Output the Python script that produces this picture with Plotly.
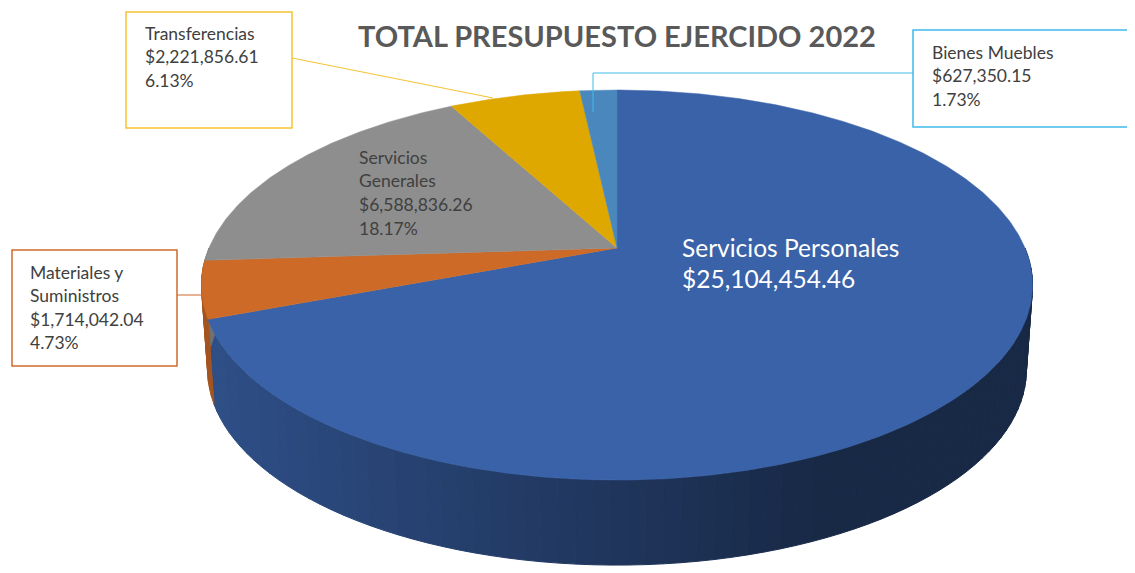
import numpy as np
import plotly.graph_objects as go

# datos (clockwise desde las 12)
categorias = ["Servicios Personales", "Materiales y Suministros", "Servicios Generales",
              "Transferencias", "Bienes Muebles"]
etiquetas = [["Servicios Personales"], ["Materiales y", "Suministros"], ["Servicios", "Generales"],
             ["Transferencias"], ["Bienes Muebles"]]
montos = [25104454.46, 1714042.04, 6588836.26, 2221856.61, 627350.15]
colores = ["#3A62A8", "#CD6A27", "#8E8E8E", "#DFA800", "#4A87BC"]
bordes = [None, "#D0692A", None, "#F5C232", "#3EBBEA"]

W, H = 1135, 573
OFF = 8  # margen del body de la pagina
CX, CY = 617, 248
RX, A, B = 408, 188, -0.19
PROF = 85
FONT = "Lato"
TS = 17.5


def proyecta(phi_deg, abajo=False):
    phi = np.radians(phi_deg)
    u = np.sin(phi)
    s = -np.cos(phi)
    d = 1 + B * s
    x = CX + RX * u / d
    y = CY + A * s / d
    if abajo:
        x = CX + (x - CX) * 0.985
        y = y + PROF
    return x, y


def hex_rgb(c):
    c = c.lstrip("#")
    return [int(c[i:i + 2], 16) for i in (0, 2, 4)]


total = sum(montos)
fracs = np.array(montos) / total
cortes = np.concatenate([[0], np.cumsum(fracs) * 360])

fig = go.Figure()

# lateral (solo la mitad cercana)
for i, cat in enumerate(categorias):
    a0, a1 = max(cortes[i], 90), min(cortes[i + 1], 270)
    if a1 <= a0:
        continue
    pasos = np.linspace(a0, a1, max(2, int((a1 - a0) / 2) + 1))
    base = hex_rgb(colores[i])
    for p0, p1 in zip(pasos[:-1], pasos[1:]):
        xt0, yt0 = proyecta(p0)
        xt1, yt1 = proyecta(p1)
        xb1, yb1 = proyecta(p1, True)
        xb0, yb0 = proyecta(p0, True)
        xm = (xt0 + xt1) / 2
        t = min(max((xm - 215) / (820 - 215), 0), 1)
        f = 0.8 - 0.38 * t
        col = "rgb(%d,%d,%d)" % tuple(int(v * f) for v in base)
        fig.add_trace(go.Scatter(
            x=[xt0, xt1, xb1, xb0, xt0], y=[yt0, yt1, yb1, yb0, yt0],
            mode="lines", fill="toself", fillcolor=col,
            line=dict(color=col, width=1), hoverinfo="skip"))

# caras superiores
for i, cat in enumerate(categorias):
    arco = np.linspace(cortes[i], cortes[i + 1], max(3, int(cortes[i + 1] - cortes[i]) * 2))
    xs, ys = proyecta(arco)
    fig.add_trace(go.Scatter(
        x=np.concatenate([[CX], xs, [CX]]), y=np.concatenate([[CY], ys, [CY]]),
        mode="lines", fill="toself", fillcolor=colores[i],
        line=dict(color=colores[i], width=0.5),
        name=cat, text=f"{cat}<br>${montos[i]:,.2f}<br>{fracs[i]*100:.2f}%",
        hoverinfo="text"))

shapes = []
anots = []


def texto(x, y, lineas, color="#404040", size=TS, paso=23.5):
    for k, l in enumerate(lineas):
        anots.append(dict(x=x, y=y + k * paso, text=l, showarrow=False, xref="x", yref="y",
                          xanchor="left", yanchor="middle",
                          font=dict(family=FONT, size=size, color=color)))


def lineas_de(i):
    return etiquetas[i] + [f"${montos[i]:,.2f}", f"{fracs[i]*100:.2f}%"]


# Servicios Personales (dentro, blanco)
texto(680, 247, etiquetas[0] + [f"${montos[0]:,.2f}"], color="white", size=24.5, paso=31)
# Servicios Generales (dentro)
texto(357, 157, lineas_de(2), paso=23.7)

# Transferencias
shapes.append(dict(type="line", x0=292, y0=58, x1=493, y1=98, line=dict(color=bordes[3], width=1)))
shapes.append(dict(type="rect", x0=126, y0=12, x1=292, y1=128, line=dict(color=bordes[3], width=1.5),
                   fillcolor="white"))
texto(143, 33, lineas_de(3))

# Bienes Muebles
shapes.append(dict(type="line", x0=593, y0=112, x1=593, y1=73, line=dict(color=bordes[4], width=1)))
shapes.append(dict(type="line", x0=593, y0=73, x1=913, y1=73, line=dict(color=bordes[4], width=1)))
shapes.append(dict(type="rect", x0=913, y0=30, x1=1150, y1=127, line=dict(color=bordes[4], width=1.5),
                   fillcolor="white"))
texto(930, 52, lineas_de(4))

# Materiales y Suministros
shapes.append(dict(type="line", x0=177, y0=295, x1=210, y1=295, line=dict(color=bordes[1], width=1)))
shapes.append(dict(type="rect", x0=12, y0=250, x1=177, y1=366, line=dict(color=bordes[1], width=1.5),
                   fillcolor="white"))
texto(28, 272, lineas_de(1))

# titulo
anots.append(dict(x=617, y=35, text="<b>TOTAL PRESUPUESTO EJERCIDO 2022</b>", showarrow=False,
                  xref="x", yref="y", xanchor="center", yanchor="middle",
                  font=dict(family=FONT, size=29, color="#595959")))

fig.update_layout(
    width=W, height=H,
    margin=dict(l=0, r=0, t=0, b=0),
    plot_bgcolor="white", paper_bgcolor="white",
    showlegend=False,
    xaxis=dict(range=[OFF, W + OFF], visible=False, fixedrange=True),
    yaxis=dict(range=[H + OFF, OFF], visible=False, fixedrange=True),
    shapes=shapes, annotations=anots,
)

fig.write_html("out.html")
